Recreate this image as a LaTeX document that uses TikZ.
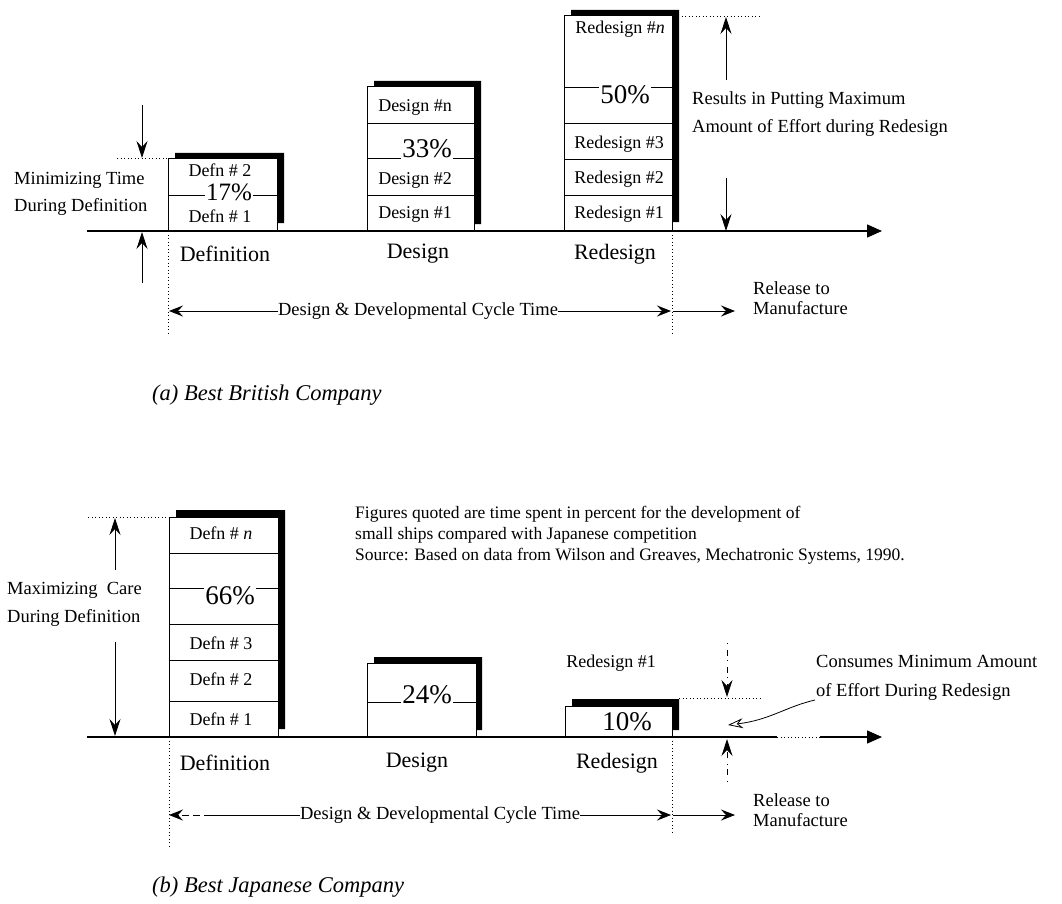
\documentclass[tikz,border=0pt]{standalone}
\usepackage{fontspec}
\setmainfont{Liberation Serif}
\usetikzlibrary{arrows.meta}
\begin{document}
\begin{tikzpicture}[x=1pt,y=-1pt,
  lbl/.style={font=\fontsize{18.5}{20}\selectfont, inner sep=0pt},
  cell/.style={font=\fontsize{18}{20}\selectfont, inner sep=0pt},
  pct/.style={font=\fontsize{27}{28}\selectfont, fill=white, inner sep=1.5pt},
  phase/.style={font=\fontsize{22}{24}\selectfont, inner sep=0pt},
  capt/.style={font=\fontsize{22.5}{24}\selectfont\itshape, anchor=west, inner sep=0pt},
  boxline/.style={line width=1pt},
  shade/.style={fill=black},
  axisline/.style={line width=1.3pt},
  axisarrow/.style={line width=1.3pt, -{Triangle[length=15pt,width=13pt]}},
  dim/.style={line width=0.9pt, -{Stealth[length=17pt,width=11pt,inset=6pt]}},
  cyc/.style={line width=0.9pt, -{Stealth[length=14pt,width=11pt,inset=5pt]}},
  guide/.style={line width=0.7pt, dash pattern=on 1pt off 2.5pt},
  dashdim/.style={line width=0.8pt, dash pattern=on 1pt off 6pt on 6pt off 4pt, -{Stealth[length=17pt,width=11pt,inset=6pt]}},
]
\useasboundingbox (0,0) rectangle (1062,904);
\fill[white] (0,0) rectangle (1062,904);

% ================= (a) Best British Company =================
\coordinate (aAx0) at (87,231);
\coordinate (aAx1) at (882,231);
\draw[axisarrow] (aAx0) -- (aAx1);

% Definition stack (a)
\fill[shade] (175,153) -- (284,153) -- (284,223) -- (277,223) -- (277,159) -- (175,159) -- cycle;
\draw[boxline] (168,159) rectangle (277,231);
\draw[boxline] (168,196) -- (277,196);
\node[cell] (aD2) at (220,170) {Defn \# 2};
\node[pct, font=\fontsize{25}{26}\selectfont, inner sep=0.8pt]  (aP17) at (229,192) {17\%};
\node[cell] (aD1) at (220,216) {Defn \# 1};

% Design stack (a)
\fill[shade] (374,81) -- (481,81) -- (481,224) -- (474,224) -- (474,87) -- (374,87) -- cycle;
\draw[boxline] (367,87) rectangle (474,231);
\draw[boxline] (367,124) -- (474,124);
\draw[boxline] (367,159) -- (474,159);
\draw[boxline] (367,196) -- (474,196);
\node[cell] (aGn) at (415,107) {Design \#n};
\node[pct]  (aP33) at (427,149) {33\%};
\node[cell] (aG2) at (415,180) {Design \#2};
\node[cell] (aG1) at (415,214) {Design \#1};

% Redesign stack (a)
\fill[shade] (571,10) -- (679,10) -- (679,222) -- (672,222) -- (672,16) -- (571,16) -- cycle;
\draw[boxline] (564,16) rectangle (672,231);
\draw[boxline] (564,88) -- (672,88);
\draw[boxline] (564,124) -- (672,124);
\draw[boxline] (564,160) -- (672,160);
\draw[boxline] (564,196) -- (672,196);
\node[cell] (aRn) at (620,29) {Redesign \#\textit{n}};
\node[pct]  (aP50) at (625,95) {50\%};
\node[cell] (aR3) at (619,144) {Redesign \#3};
\node[cell] (aR2) at (619,179) {Redesign \#2};
\node[cell] (aR1) at (619,214) {Redesign \#1};

% left dimension (a)
\coordinate (aLg0) at (117,158);
\coordinate (aLg1) at (168,158);
\draw[guide] (aLg0) -- (aLg1);
\coordinate (aLt) at (142,105);
\coordinate (aLtt) at (142,158);
\draw[dim] (aLt) -- (aLtt);
\coordinate (aLb) at (142,283);
\coordinate (aLbt) at (142,232);
\draw[dim] (aLb) -- (aLbt);
\node[lbl, align=left, anchor=west, font=\fontsize{18.5}{27}\selectfont] (aMin) at (14,194) {Minimizing Time\\During Definition};

% right dimension (a)
\coordinate (aRg0) at (678,16);
\coordinate (aRg1) at (762,16);
\draw[guide] (aRg0) -- (aRg1);
\coordinate (aRt) at (726,80);
\coordinate (aRtt) at (726,17);
\draw[dim] (aRt) -- (aRtt);
\coordinate (aRb) at (726,178);
\coordinate (aRbt) at (726,231);
\draw[dim] (aRb) -- (aRbt);
\node[lbl, align=left, anchor=west, font=\fontsize{18.5}{28}\selectfont] (aRes) at (692,114) {Results in Putting Maximum\\Amount of Effort during Redesign};

% phase labels (a)
\node[phase] (aPhD) at (225,254) {Definition};
\node[phase] (aPhG) at (418,254) {Design};
\node[phase] (aPhR) at (615,254) {Redesign};

% vertical guides (a)
\coordinate (aV0) at (168,231); \coordinate (aV0e) at (168,334);
\coordinate (aV1) at (672,231); \coordinate (aV1e) at (672,334);
\draw[guide] (aV0) -- (aV0e);
\draw[guide] (aV1) -- (aV1e);

% cycle time (a)
\node[lbl] (aCyc) at (418,311) {Design \& Developmental Cycle Time};
\coordinate (aCycL) at (169,311);
\coordinate (aCycR) at (671,311);
\coordinate (aRelS) at (673,311);
\coordinate (aRelE) at (735,311);
\draw[cyc] (aCyc.west) -- (aCycL);
\draw[cyc] (aCyc.east) -- (aCycR);
\draw[cyc] (aRelS) -- (aRelE);
\node[lbl, align=left, anchor=west] (aRel) at (753,298) {Release to\\Manufacture};

\node[capt] (aCap) at (152,395) {(a) Best British Company};

% ================= (b) Best Japanese Company =================
\coordinate (bAx0) at (87,737);
\coordinate (bAx1) at (777,737);
\coordinate (bAx2) at (820,737);
\coordinate (bAx3) at (882,737);
\draw[axisline] (bAx0) -- (bAx1);
\draw[guide, line width=1pt] (bAx1) -- (bAx2);
\draw[axisarrow] (bAx2) -- (bAx3);

% Definition stack (b)
\fill[shade] (176,510) -- (285,510) -- (285,729) -- (278,729) -- (278,517) -- (176,517) -- cycle;
\draw[boxline] (169,517) rectangle (278,737);
\draw[boxline] (169,553) -- (278,553);
\draw[boxline] (169,588) -- (278,588);
\draw[boxline] (169,624) -- (278,624);
\draw[boxline] (169,660) -- (278,660);
\draw[boxline] (169,701) -- (278,701);
\node[cell] (bDn) at (221,533) {Defn \# \textit{n}};
\node[pct]  (bP66) at (230,596) {66\%};
\node[cell] (bD3) at (221,643) {Defn \# 3};
\node[cell] (bD2) at (221,679) {Defn \# 2};
\node[cell] (bD1) at (221,719) {Defn \# 1};

% Design stack (b)
\fill[shade] (374,657) -- (482,657) -- (482,730) -- (476,730) -- (476,663) -- (374,663) -- cycle;
\draw[boxline] (367,663) rectangle (476,737);
\draw[boxline] (367,702) -- (476,702);
\node[pct] (bP24) at (427,695) {24\%};

% Redesign stack (b)
\fill[shade] (572,699) -- (679,699) -- (679,730) -- (672,730) -- (672,706) -- (572,706) -- cycle;
\draw[boxline] (565,706) rectangle (672,737);
\node[pct] (bP10) at (627,722) {10\%};
\node[cell] (bR1) at (611,663) {Redesign \#1};

% left dimension (b)
\coordinate (bLg0) at (88,517);
\coordinate (bLg1) at (169,517);
\draw[guide] (bLg0) -- (bLg1);
\coordinate (bLt) at (115,570);
\coordinate (bLtt) at (115,518);
\draw[dim] (bLt) -- (bLtt);
\coordinate (bLb) at (115,642);
\coordinate (bLbt) at (115,736);
\draw[dim] (bLb) -- (bLbt);
\node[lbl, align=left, anchor=west, font=\fontsize{18.5}{28}\selectfont] (bMax) at (7,604) {Maximizing\ \ Care\\During Definition};

% right dimension (b)
\coordinate (bRg0) at (679,698);
\coordinate (bRg1) at (762,698);
\draw[guide] (bRg0) -- (bRg1);
\coordinate (bRt) at (727,643);
\coordinate (bRtt) at (727,697);
\draw[dashdim] (bRt) -- (bRtt);
\coordinate (bRb) at (727,782);
\coordinate (bRbt) at (727,739);
\draw[dashdim] (bRb) -- (bRbt);
\node[lbl, align=left, anchor=west, font=\fontsize{18.5}{29}\selectfont] (bCon) at (816,678) {Consumes Minimum Amount\\of Effort During Redesign};
\coordinate (bConS) at (815,700);
\coordinate (bConT) at (728,725);
\draw[line width=0.8pt, -{Stealth[open,length=15pt,width=10pt,inset=5pt]}] (bConS) .. controls (785,707) and (770,720) .. (bConT);

% phase labels (b)
\node[phase] (bPhD) at (225,763) {Definition};
\node[phase] (bPhG) at (417,763) {Design};
\node[phase] (bPhR) at (617,763) {Redesign};

% vertical guides (b)
\coordinate (bV0) at (169,737); \coordinate (bV0e) at (169,846);
\coordinate (bV1) at (672,737); \coordinate (bV1e) at (672,832);
\draw[guide] (bV0) -- (bV0e);
\draw[guide] (bV1) -- (bV1e);

% cycle time (b)
\node[lbl] (bCyc) at (440,815) {Design \& Developmental Cycle Time};
\coordinate (bCycM) at (211,815);
\coordinate (bCycL) at (169,815);
\coordinate (bCycR) at (671,815);
\coordinate (bRelS) at (673,815);
\coordinate (bRelE) at (735,815);
\draw[line width=0.9pt] (bCyc.west) -- (bCycM);
\draw[cyc, dash pattern=on 7pt off 4pt] (bCycM) -- (bCycL);
\draw[cyc] (bCyc.east) -- (bCycR);
\draw[cyc] (bRelS) -- (bRelE);
\node[lbl, align=left, anchor=west] (bRel) at (753,810) {Release to\\Manufacture};

% note
\node[lbl, align=left, anchor=north west, font=\fontsize{17.5}{21}\selectfont] (bNote) at (355,506) {Figures quoted are time spent in percent for the development of\\small ships compared with Japanese competition\\Source: Based on data from Wilson and Greaves, Mechatronic Systems, 1990.};

\node[capt] (bCap) at (152,887) {(b) Best Japanese Company};
\end{tikzpicture}
\end{document}
